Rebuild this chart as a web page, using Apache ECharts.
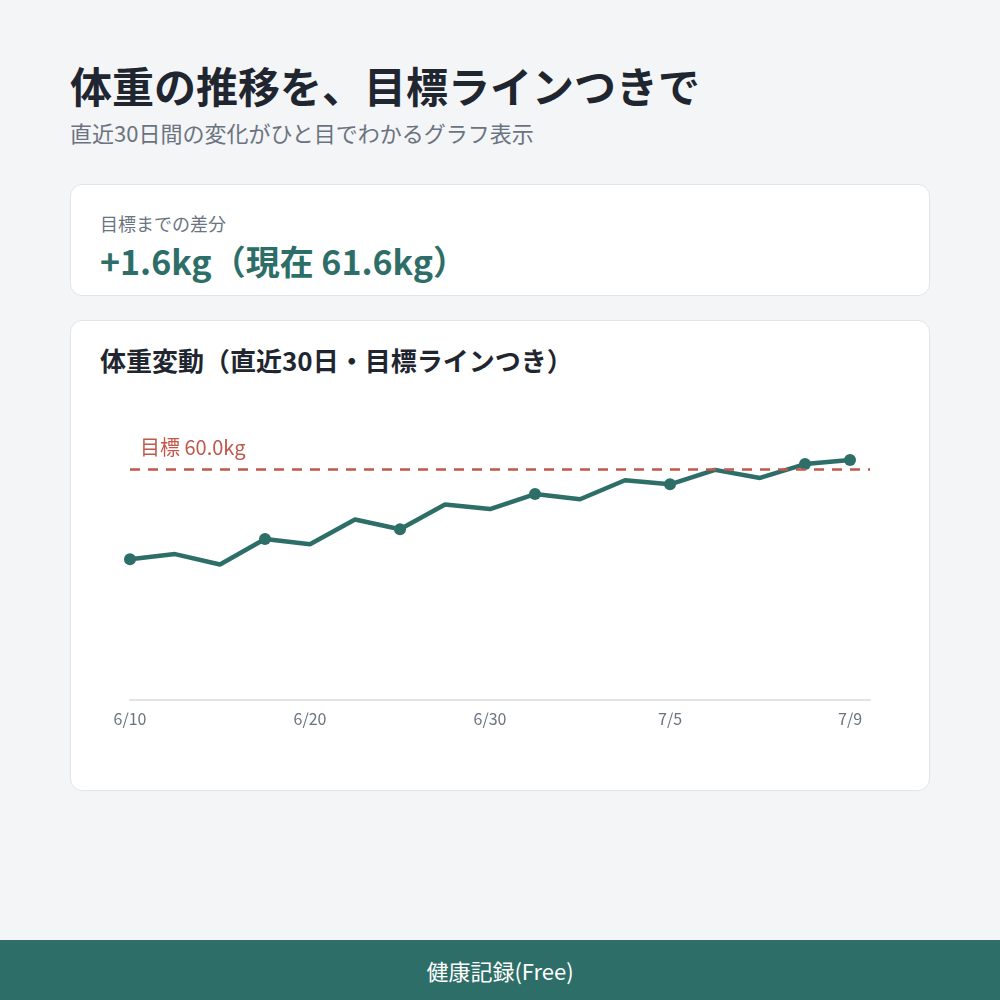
<!DOCTYPE html>
<html><head><meta charset="utf-8">
<script src="https://cdn.jsdelivr.net/npm/echarts@6/dist/echarts.min.js"></script>
<style>
html,body{margin:0;padding:0;width:1000px;height:1000px;background:#f4f5f7;font-family:"Noto Sans CJK JP","Noto Sans",sans-serif;overflow:hidden;position:relative}
.t{position:absolute;white-space:nowrap;line-height:1}
#title{left:70px;top:64px;font-size:42px;font-weight:700;color:#1f2630}
#sub{left:70px;top:121px;font-size:22px;color:#6b7380}
.card{position:absolute;left:70px;width:858px;background:#fff;border:1px solid #e1e4e8;border-radius:12px}
#c1{top:184px;height:110px}
#c2{top:320px;height:469px}
#lbl{left:100px;top:214px;font-size:18px;color:#6b7380}
#val{left:100px;top:244px;font-size:34px;font-weight:700;color:#2e6e68}
#ctitle{left:100px;top:347px;font-size:26px;font-weight:700;color:#1f2630}
#chart{position:absolute;left:70px;top:320px;width:860px;height:470px}
#footer{position:absolute;left:0;top:940px;width:1000px;height:60px;background:#2e6e68;color:#fff;font-size:22px;display:flex;align-items:center;justify-content:center}
</style></head><body>
<div class="t" id="title">体重の推移を、目標ラインつきで</div>
<div class="t" id="sub">直近30日間の変化がひと目でわかるグラフ表示</div>
<div class="card" id="c1"></div>
<div class="card" id="c2"></div>
<div class="t" id="lbl">目標までの差分</div>
<div class="t" id="val">+1.6kg（現在 61.6kg）</div>
<div class="t" id="ctitle">体重変動（直近30日・目標ラインつき）</div>
<div id="chart"></div>
<div id="footer">健康記録(Free)</div>
<script>
const dates = ['6/10','6/12','6/15','6/17','6/20','6/22','6/25','6/27','6/30','7/1','7/2','7/3','7/5','7/6','7/7','7/8','7/9'];
const weights = [44.4,45.3,43.5,47.9,47.0,51.3,49.6,53.9,53.1,55.7,54.8,58.1,57.4,59.9,58.5,60.9,61.6];
const markerIdx = [0,3,6,9,12,15,16];
const target = 60.0;
const labelIdx = [0,4,8,12,16];

const chart = echarts.init(document.getElementById('chart'), null, {renderer:'canvas'});
const green = '#2e6e68', red = '#c0584b';
chart.setOption({
  backgroundColor:'transparent',
  animation:false,
  grid:{left:60,right:60,top:91.6,bottom:90},
  xAxis:{
    type:'value', min:0, max:16.444, interval:4,
    axisLine:{show:true,lineStyle:{color:'#e3e3e3',width:2}},
    axisTick:{show:false}, splitLine:{show:false},
    axisLabel:{color:'#6b7280',fontSize:16,margin:11,fontFamily:'"Noto Sans CJK JP"',
      formatter:v=>{const i=Math.round(v);return (Math.abs(v-i)<1e-6 && labelIdx.includes(i))?dates[i]:'';},
      showMaxLabel:false}
  },
  yAxis:{type:'value',min:20,max:70,show:false},
  series:[{
    type:'line',
    data:weights.map((w,i)=>({value:[i,w],symbolSize:markerIdx.includes(i)?12:0})),
    symbol:'circle',
    showAllSymbol:true,
    lineStyle:{color:green,width:4.5},
    itemStyle:{color:green},
    markLine:{
      silent:true,symbol:'none',
      lineStyle:{color:red,type:[10,8],width:2.5},
      label:{show:true,position:'insideStartTop',formatter:'目標 '+target.toFixed(1)+'kg',color:red,fontSize:20,distance:[10,12],fontFamily:'"Noto Sans CJK JP"'},
      data:[{yAxis:target}]
    }
  }]
});
</script>
</body></html>
